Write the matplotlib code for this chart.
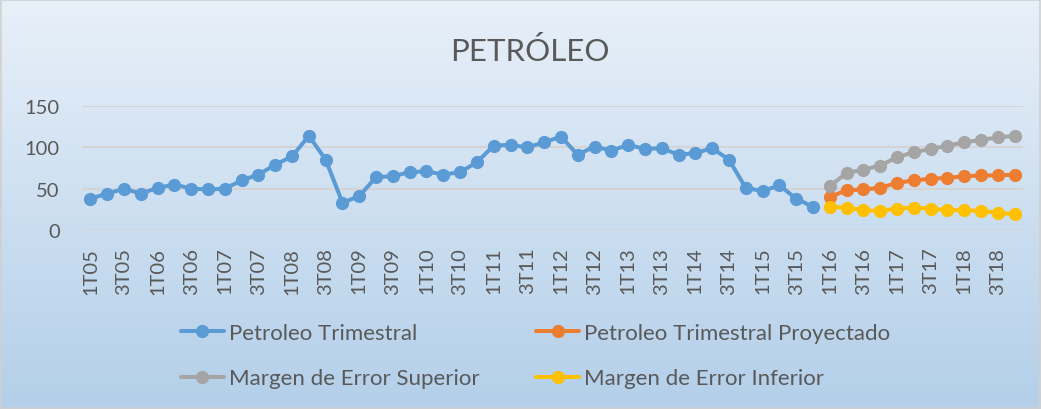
import numpy as np
import matplotlib
matplotlib.use("Agg")
import matplotlib.pyplot as plt
from matplotlib.colors import LinearSegmentedColormap

plt.rcParams['font.family'] = ['Lato', 'DejaVu Sans']

# datos
trimestres = [f"{q}T{a:02d}" for a in range(5, 19) for q in range(1, 5)]
petroleo = [38, 44, 50, 44, 51, 55, 50, 49, 50, 60, 67, 79, 89, 114, 85, 33, 41, 64, 65, 70,
            71, 67, 70, 82, 102, 103, 100, 106, 113, 91, 101, 96, 103, 98, 99, 91, 93, 99, 85,
            51, 47, 54, 38, 28]
proyectado = [40, 48, 49, 51, 57, 60, 62, 63, 65, 66, 66, 67]
superior = [53, 69, 73, 78, 88, 94, 98, 102, 106, 109, 112, 114]
inferior = [28, 27, 24, 23, 26, 27, 26, 24, 24, 23, 21, 19]

fig = plt.figure(figsize=(10.41, 4.10), dpi=100)

# fondo degradado
bg = fig.add_axes([0, 0, 1, 1], zorder=-1)
cmap = LinearSegmentedColormap.from_list("fondo", ["#e8f0f9", "#b3cfe9"])
bg.imshow(np.linspace(0, 1, 256).reshape(-1, 1), aspect='auto', cmap=cmap,
          extent=[0, 1, 0, 1])
bg.set_xlim(0, 1)
bg.set_ylim(0, 1)
bg.axis('off')
bg.add_patch(plt.Rectangle((0.001, 0.002), 0.998, 0.996, fill=False,
                           edgecolor='#d0d0d0', lw=1.2))

ax = fig.add_axes([0.0788, 0.4366, 0.9039, 0.3024])
ax.set_facecolor('none')

x_hist = np.arange(len(petroleo))
x_proy = np.arange(len(petroleo), len(petroleo) + len(proyectado))

estilo = dict(lw=2.9, marker='o', markersize=8.5, solid_capstyle='round')
l1, = ax.plot(x_hist, petroleo, color='#5b9bd5', label='Petroleo Trimestral', **estilo)
l2, = ax.plot(x_proy, proyectado, color='#ed7d31', label='Petroleo Trimestral Proyectado', **estilo)
l3, = ax.plot(x_proy, superior, color='#a5a5a5', label='Margen de Error Superior', **estilo)
l4, = ax.plot(x_proy, inferior, color='#ffc000', label='Margen de Error Inferior', **estilo)

ax.set_xlim(-0.5, len(trimestres) - 0.5)
ax.set_ylim(0, 150)
ax.set_yticks([0, 50, 100, 150])
ax.set_xticks(np.arange(0, len(trimestres), 2))
ax.set_xticklabels(trimestres[::2], rotation=90)
ax.tick_params(axis='both', length=0, labelsize=14.5, colors='#595959')
ax.tick_params(axis='y', pad=16)
ax.tick_params(axis='x', pad=12)
ax.grid(axis='y', color='#d4d4d4', lw=1.5)
ax.set_axisbelow(True)
for s in ax.spines.values():
    s.set_visible(False)

fig.text(0.509, 0.874, 'PETRÓLEO', ha='center', va='center', fontsize=22.5, color='#595959')

fig.legend([l1, l3, l2, l4],
           [l1.get_label(), l3.get_label(), l2.get_label(), l4.get_label()],
           ncol=2, loc='center left', bbox_to_anchor=(0.155, 0.130), frameon=False,
           fontsize=16, labelcolor='#595959', handlelength=1.9, handletextpad=0.25,
           columnspacing=2.55, labelspacing=1.15)

fig.savefig('out.png', dpi=100)
